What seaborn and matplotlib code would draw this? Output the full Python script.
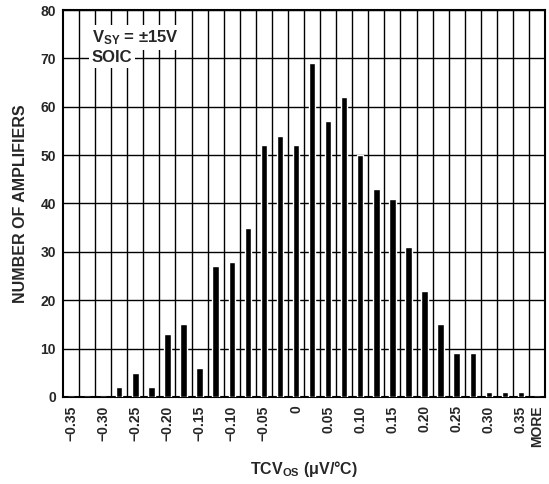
import matplotlib
matplotlib.use("Agg")
import matplotlib.pyplot as plt
import numpy as np
import pandas as pd
import seaborn as sns

# histogram bins (0.025 uV/C wide) and the number of amplifiers in each
bins = ["-0.350", "-0.325", "-0.300", "-0.275", "-0.250", "-0.225",
        "-0.200", "-0.175", "-0.150", "-0.125", "-0.100", "-0.075",
        "-0.050", "-0.025", "0.000", "0.025", "0.050", "0.075",
        "0.100", "0.125", "0.150", "0.175", "0.200", "0.225",
        "0.250", "0.275", "0.300", "0.325", "0.350", "MORE"]
counts = [0, 0, 0, 2, 5, 2,
          13, 15, 6, 27, 28, 35,
          52, 54, 52, 69, 57, 62,
          50, 43, 41, 31, 22, 15,
          9, 9, 1, 1, 1, 0]

label_bins = ["-0.350", "-0.300", "-0.250", "-0.200", "-0.150", "-0.100",
              "-0.050", "0.000", "0.050", "0.100", "0.150", "0.200",
              "0.250", "0.300", "0.350", "MORE"]
tick_labels = ["\u22120.35", "\u22120.30", "\u22120.25", "\u22120.20",
               "\u22120.15", "\u22120.10", "\u22120.05", "0", "0.05",
               "0.10", "0.15", "0.20", "0.25", "0.30", "0.35", "MORE"]
y_ticks = [0, 10, 20, 30, 40, 50, 60, 70, 80]

sns.set_style("white")
plt.rcParams["font.family"] = ["Liberation Sans", "DejaVu Sans"]
plt.rcParams["font.weight"] = "bold"
plt.rcParams["mathtext.fontset"] = "custom"
plt.rcParams["mathtext.rm"] = "Liberation Sans:bold"
plt.rcParams["mathtext.it"] = "Liberation Sans:bold"
plt.rcParams["mathtext.bf"] = "Liberation Sans:bold"

df = pd.DataFrame({"bin": bins, "count": counts})

fig = plt.figure(figsize=(5.49, 4.84), dpi=100)
ax = fig.add_axes([0.1148, 0.1798, 0.878, 0.7995])

sns.barplot(data=df, x="bin", y="count", order=bins, color="black",
            width=0.4, saturation=1, ax=ax, zorder=3)

ax.set_xlim(-0.5, len(bins) - 0.5)
ax.set_ylim(0, 80)
ax.set_yticks(y_ticks)
ax.set_xticks([bins.index(b) for b in label_bins])
ax.set_xticklabels(tick_labels, rotation=90, va="top", ha="center",
                   fontsize=10, fontweight="bold")
ax.set_xticks(np.arange(0.5, len(bins) - 1, 1), minor=True)
ax.tick_params(axis="both", which="both", length=0)
ax.tick_params(axis="x", pad=6)
ax.tick_params(axis="y", labelsize=10, pad=5)
for lab in ax.get_yticklabels():
    lab.set_fontweight("bold")

ax.grid(False)
ax.grid(True, which="minor", axis="x", color="black", linewidth=1.0)
ax.grid(True, which="major", axis="y", color="black", linewidth=1.0)
ax.set_axisbelow(True)
for s in ax.spines.values():
    s.set_color("black")
    s.set_linewidth(1.5)
    s.set_visible(True)

ax.set_xlabel("TCV$_\\mathrm{OS}$ (\u03bcV/\u00b0C)", fontsize=11.5,
              fontweight="bold", labelpad=9)
ax.set_ylabel("NUMBER OF AMPLIFIERS", fontsize=11.5, fontweight="bold",
              labelpad=9)

ax.text(1.3, 74.3, "V$_\\mathrm{SY}$ = \u00b115V", fontsize=12,
        fontweight="bold", va="center", ha="left", zorder=4,
        bbox=dict(facecolor="white", edgecolor="none", pad=2))
ax.text(1.3, 70.2, "SOIC", fontsize=12, fontweight="bold",
        va="center", ha="left", zorder=4,
        bbox=dict(facecolor="white", edgecolor="none", pad=2))

plt.savefig("out.png", dpi=100)
plt.close()
